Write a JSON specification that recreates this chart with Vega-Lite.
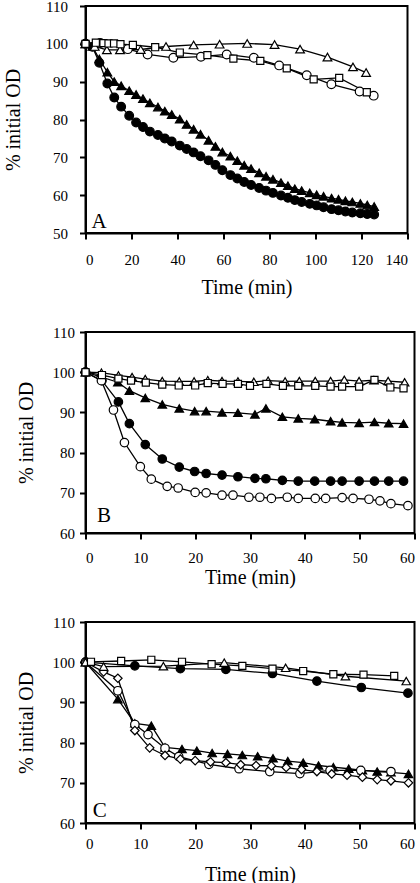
{
  "$schema": "https://vega.github.io/schema/vega-lite/v6.json",
  "padding": {"left": 1.5, "top": -2, "right": 0, "bottom": 0},
  "background": "white",
  "spacing": 26,
  "config": {
    "font": "Liberation Serif",
    "view": {"stroke": "black", "strokeWidth": 2},
    "axis": {
      "domainColor": "black", "domainWidth": 2, "tickColor": "black", "tickWidth": 2, "tickSize": 6,
      "grid": false, "labelColor": "black", "labelFontSize": 15, "labelFont": "Liberation Serif",
      "titleFont": "Liberation Serif", "titleFontSize": 20, "titleFontWeight": "normal", "titleColor": "black"
    },
    "text": {"font": "Liberation Serif"}
  },
  "vconcat": [
    {
      "width": 322, "height": 227,
      "data": {"values": [
        {"t":0,"v":100,"s":"fc"},{"t":3,"v":99.2,"s":"fc"},{"t":6,"v":95.0,"s":"fc"},{"t":9.5,"v":89.5,"s":"fc"},{"t":12.5,"v":85.8,"s":"fc"},{"t":15.5,"v":83.4,"s":"fc"},{"t":19,"v":81.0,"s":"fc"},{"t":22,"v":79.2,"s":"fc"},{"t":25,"v":78.0,"s":"fc"},{"t":28,"v":76.8,"s":"fc"},{"t":31.5,"v":75.9,"s":"fc"},{"t":34.5,"v":75.0,"s":"fc"},{"t":37.5,"v":74.2,"s":"fc"},{"t":41,"v":73.1,"s":"fc"},{"t":44,"v":72.2,"s":"fc"},{"t":47,"v":71.3,"s":"fc"},{"t":50,"v":70.3,"s":"fc"},{"t":53.5,"v":69.2,"s":"fc"},{"t":56.5,"v":68.0,"s":"fc"},{"t":59.5,"v":66.6,"s":"fc"},{"t":63,"v":65.3,"s":"fc"},{"t":66,"v":64.4,"s":"fc"},{"t":69,"v":63.5,"s":"fc"},{"t":72,"v":62.7,"s":"fc"},{"t":75.5,"v":61.9,"s":"fc"},{"t":78.5,"v":61.2,"s":"fc"},{"t":81.5,"v":60.6,"s":"fc"},{"t":85,"v":59.9,"s":"fc"},{"t":88,"v":59.3,"s":"fc"},{"t":91,"v":58.7,"s":"fc"},{"t":94,"v":58.2,"s":"fc"},{"t":97.5,"v":57.7,"s":"fc"},{"t":100.5,"v":57.3,"s":"fc"},{"t":103.5,"v":56.8,"s":"fc"},{"t":107,"v":56.3,"s":"fc"},{"t":110,"v":56.0,"s":"fc"},{"t":113,"v":55.7,"s":"fc"},{"t":116,"v":55.4,"s":"fc"},{"t":119.5,"v":55.2,"s":"fc"},{"t":122.5,"v":55.0,"s":"fc"},{"t":125.5,"v":54.9,"s":"fc"},
        {"t":0,"v":100,"s":"ft"},{"t":3,"v":99.3,"s":"ft"},{"t":6,"v":96.0,"s":"ft"},{"t":9.5,"v":92.5,"s":"ft"},{"t":12.5,"v":90.0,"s":"ft"},{"t":15.5,"v":88.9,"s":"ft"},{"t":19,"v":87.6,"s":"ft"},{"t":22,"v":86.6,"s":"ft"},{"t":25,"v":85.5,"s":"ft"},{"t":28,"v":84.4,"s":"ft"},{"t":31.5,"v":83.3,"s":"ft"},{"t":34.5,"v":82.2,"s":"ft"},{"t":37.5,"v":81.3,"s":"ft"},{"t":41,"v":80.1,"s":"ft"},{"t":44,"v":78.7,"s":"ft"},{"t":47,"v":77.4,"s":"ft"},{"t":50,"v":76.1,"s":"ft"},{"t":53.5,"v":74.5,"s":"ft"},{"t":56.5,"v":72.9,"s":"ft"},{"t":59.5,"v":71.4,"s":"ft"},{"t":63,"v":70.3,"s":"ft"},{"t":66,"v":69.1,"s":"ft"},{"t":69,"v":67.9,"s":"ft"},{"t":72,"v":67.0,"s":"ft"},{"t":75.5,"v":65.9,"s":"ft"},{"t":78.5,"v":65.0,"s":"ft"},{"t":81.5,"v":64.2,"s":"ft"},{"t":85,"v":63.3,"s":"ft"},{"t":88,"v":62.5,"s":"ft"},{"t":91,"v":61.7,"s":"ft"},{"t":94,"v":61.2,"s":"ft"},{"t":97.5,"v":60.6,"s":"ft"},{"t":100.5,"v":60.1,"s":"ft"},{"t":103.5,"v":59.7,"s":"ft"},{"t":107,"v":59.2,"s":"ft"},{"t":110,"v":58.9,"s":"ft"},{"t":113,"v":58.5,"s":"ft"},{"t":116,"v":58.2,"s":"ft"},{"t":119.5,"v":57.8,"s":"ft"},{"t":122.5,"v":57.4,"s":"ft"},{"t":125.5,"v":57.0,"s":"ft"},
        {"t":0,"v":100,"s":"oc"},{"t":6.4,"v":100.2,"s":"oc"},{"t":18.4,"v":98.6,"s":"oc"},{"t":27,"v":97.2,"s":"oc"},{"t":38.2,"v":96.3,"s":"oc"},{"t":50.2,"v":96.6,"s":"oc"},{"t":61.4,"v":97.2,"s":"oc"},{"t":73.2,"v":96.3,"s":"oc"},{"t":84.2,"v":94.3,"s":"oc"},{"t":96.2,"v":91.7,"s":"oc"},{"t":106.9,"v":89.3,"s":"oc"},{"t":119.2,"v":87.4,"s":"oc"},{"t":125.3,"v":86.3,"s":"oc"},
        {"t":0,"v":100,"s":"ot"},{"t":4,"v":99.3,"s":"ot"},{"t":9.3,"v":98.4,"s":"ot"},{"t":15,"v":98.4,"s":"ot"},{"t":24,"v":98.5,"s":"ot"},{"t":35,"v":99.3,"s":"ot"},{"t":47,"v":99.7,"s":"ot"},{"t":58.3,"v":99.9,"s":"ot"},{"t":70.3,"v":100.1,"s":"ot"},{"t":82.2,"v":99.8,"s":"ot"},{"t":93.3,"v":98.6,"s":"ot"},{"t":105.2,"v":96.5,"s":"ot"},{"t":116.3,"v":93.9,"s":"ot"},{"t":122,"v":92.4,"s":"ot"},
        {"t":0,"v":100,"s":"os"},{"t":4.5,"v":100.3,"s":"os"},{"t":7.8,"v":100.2,"s":"os"},{"t":10,"v":100.1,"s":"os"},{"t":12.4,"v":100.1,"s":"os"},{"t":15.2,"v":99.9,"s":"os"},{"t":20.6,"v":99.7,"s":"os"},{"t":30.3,"v":99.1,"s":"os"},{"t":41,"v":97.7,"s":"os"},{"t":53,"v":97.0,"s":"os"},{"t":64.3,"v":96.1,"s":"os"},{"t":76,"v":95.5,"s":"os"},{"t":87.5,"v":93.5,"s":"os"},{"t":99.2,"v":90.6,"s":"os"},{"t":110.3,"v":91.0,"s":"os"},{"t":122.3,"v":87.2,"s":"os"}
      ]},
      "encoding": {
        "x": {"field": "t", "type": "quantitative", "scale": {"domain": [0, 140]},
              "axis": {"title": "Time (min)", "values": [0,20,40,60,80,100,120,140], "labelPadding": 13, "titlePadding": 10, "titleFontWeight": "normal"}},
        "y": {"field": "v", "type": "quantitative", "scale": {"domain": [50, 110]},
              "axis": {"title": "% initial OD", "values": [50,60,70,80,90,100,110], "labelPadding": 12, "titlePadding": 22, "titleFontWeight": "normal"}}
      },
      "layer": [
        {"mark": {"type": "line", "color": "black", "strokeWidth": 1.3}, "encoding": {"detail": {"field": "s"}}},
        {"transform": [{"filter": "datum.s != 'os'"}],
         "mark": {"type": "point", "filled": true, "stroke": "black", "strokeWidth": 1.2, "opacity": 1, "size": 76},
         "encoding": {
           "shape": {"field": "s", "type": "nominal", "scale": {"domain": ["fc","ft","oc","ot","od"], "range": ["circle","triangle-up","circle","triangle-up","diamond"]}, "legend": null},
           "fill": {"field": "s", "type": "nominal", "scale": {"domain": ["fc","ft","oc","ot","od"], "range": ["black","black","white","white","white"]}, "legend": null}
         }},
        {"transform": [{"filter": "datum.s == 'os'"}],
         "mark": {"type": "point", "shape": "square", "filled": true, "fill": "white", "stroke": "black", "strokeWidth": 1.2, "opacity": 1, "size": 50}},
        {"data": {"values": [{"t": 2.6, "v": 51.3, "label": "A"}]},
         "mark": {"type": "text", "align": "left", "baseline": "alphabetic", "fontSize": 21, "font": "Liberation Serif", "color": "black"},
         "encoding": {"text": {"field": "label"}}}
      ]
    },
    {
      "width": 329, "height": 201,
      "data": {"values": [
        {"t":0,"v":100,"s":"ft"},{"t":5.9,"v":97.5,"s":"ft"},{"t":8,"v":95.4,"s":"ft"},{"t":10.9,"v":93.6,"s":"ft"},{"t":14,"v":92.0,"s":"ft"},{"t":17.1,"v":91.0,"s":"ft"},{"t":19.9,"v":90.3,"s":"ft"},{"t":22,"v":90.3,"s":"ft"},{"t":24.9,"v":90.0,"s":"ft"},{"t":27.8,"v":89.9,"s":"ft"},{"t":30.9,"v":89.5,"s":"ft"},{"t":32.9,"v":91.0,"s":"ft"},{"t":35.9,"v":88.9,"s":"ft"},{"t":38.8,"v":88.5,"s":"ft"},{"t":41.8,"v":88.3,"s":"ft"},{"t":44.7,"v":87.8,"s":"ft"},{"t":46.8,"v":87.5,"s":"ft"},{"t":49.9,"v":87.4,"s":"ft"},{"t":52.7,"v":87.6,"s":"ft"},{"t":55.3,"v":87.3,"s":"ft"},{"t":58,"v":87.2,"s":"ft"},
        {"t":0,"v":100,"s":"fc"},{"t":3,"v":97.9,"s":"fc"},{"t":6,"v":92.6,"s":"fc"},{"t":8,"v":87.2,"s":"fc"},{"t":10.9,"v":82.0,"s":"fc"},{"t":14,"v":78.4,"s":"fc"},{"t":17.1,"v":76.4,"s":"fc"},{"t":19.9,"v":75.3,"s":"fc"},{"t":22,"v":74.8,"s":"fc"},{"t":24.9,"v":74.4,"s":"fc"},{"t":27.8,"v":74.0,"s":"fc"},{"t":30.9,"v":73.6,"s":"fc"},{"t":32.9,"v":73.5,"s":"fc"},{"t":35.9,"v":73.1,"s":"fc"},{"t":38.8,"v":72.9,"s":"fc"},{"t":41.8,"v":72.9,"s":"fc"},{"t":44.7,"v":72.9,"s":"fc"},{"t":46.8,"v":72.9,"s":"fc"},{"t":49.9,"v":72.9,"s":"fc"},{"t":52.7,"v":72.9,"s":"fc"},{"t":55.3,"v":72.9,"s":"fc"},{"t":58,"v":72.9,"s":"fc"},
        {"t":0,"v":100,"s":"oc"},{"t":2.9,"v":97.9,"s":"oc"},{"t":5.1,"v":90.6,"s":"oc"},{"t":7.1,"v":82.5,"s":"oc"},{"t":10,"v":76.5,"s":"oc"},{"t":12,"v":73.4,"s":"oc"},{"t":14.9,"v":71.6,"s":"oc"},{"t":16.9,"v":71.2,"s":"oc"},{"t":20,"v":70.1,"s":"oc"},{"t":22,"v":70.0,"s":"oc"},{"t":24.9,"v":69.4,"s":"oc"},{"t":26.9,"v":69.4,"s":"oc"},{"t":29.8,"v":68.9,"s":"oc"},{"t":31.8,"v":68.9,"s":"oc"},{"t":33.9,"v":68.6,"s":"oc"},{"t":36.8,"v":68.9,"s":"oc"},{"t":38.8,"v":68.6,"s":"oc"},{"t":41.9,"v":68.6,"s":"oc"},{"t":43.8,"v":68.6,"s":"oc"},{"t":46.8,"v":68.8,"s":"oc"},{"t":48.8,"v":68.6,"s":"oc"},{"t":51.7,"v":68.4,"s":"oc"},{"t":53.7,"v":68.0,"s":"oc"},{"t":55.7,"v":67.3,"s":"oc"},{"t":58.8,"v":66.8,"s":"oc"},
        {"t":0,"v":100,"s":"ot"},{"t":2.9,"v":99.9,"s":"ot"},{"t":6,"v":99.2,"s":"ot"},{"t":8.5,"v":98.8,"s":"ot"},{"t":10.9,"v":98.3,"s":"ot"},{"t":14,"v":97.8,"s":"ot"},{"t":17.1,"v":97.7,"s":"ot"},{"t":19.8,"v":97.7,"s":"ot"},{"t":22.3,"v":98.0,"s":"ot"},{"t":24.9,"v":97.8,"s":"ot"},{"t":27.8,"v":97.7,"s":"ot"},{"t":30.7,"v":97.6,"s":"ot"},{"t":33.3,"v":97.9,"s":"ot"},{"t":36.4,"v":97.7,"s":"ot"},{"t":39,"v":97.8,"s":"ot"},{"t":41.9,"v":97.8,"s":"ot"},{"t":44.7,"v":97.8,"s":"ot"},{"t":47.2,"v":98.1,"s":"ot"},{"t":49.9,"v":97.8,"s":"ot"},{"t":52.6,"v":98.0,"s":"ot"},{"t":55.2,"v":97.8,"s":"ot"},{"t":58.2,"v":97.5,"s":"ot"},
        {"t":0,"v":100,"s":"os"},{"t":3,"v":99.3,"s":"os"},{"t":6,"v":98.4,"s":"os"},{"t":8.3,"v":97.9,"s":"os"},{"t":11,"v":97.4,"s":"os"},{"t":14,"v":96.9,"s":"os"},{"t":17,"v":96.7,"s":"os"},{"t":20,"v":96.7,"s":"os"},{"t":22.3,"v":97.3,"s":"os"},{"t":25,"v":97.1,"s":"os"},{"t":27.8,"v":97.1,"s":"os"},{"t":30,"v":96.6,"s":"os"},{"t":33,"v":97.1,"s":"os"},{"t":36,"v":96.6,"s":"os"},{"t":38.8,"v":96.6,"s":"os"},{"t":41.9,"v":96.6,"s":"os"},{"t":44.7,"v":96.4,"s":"os"},{"t":46.8,"v":96.4,"s":"os"},{"t":49.9,"v":96.4,"s":"os"},{"t":52.7,"v":98.1,"s":"os"},{"t":55.6,"v":96.2,"s":"os"},{"t":58,"v":96.0,"s":"os"}
      ]},
      "encoding": {
        "x": {"field": "t", "type": "quantitative", "scale": {"domain": [0, 60]},
              "axis": {"title": "Time (min)", "values": [0,10,20,30,40,50,60], "labelPadding": 11, "titlePadding": 2, "titleFontWeight": "normal"}},
        "y": {"field": "v", "type": "quantitative", "scale": {"domain": [60, 110]},
              "axis": {"title": "% initial OD", "values": [60,70,80,90,100,110], "labelPadding": 5, "titlePadding": 16, "titleFontWeight": "normal"}}
      },
      "layer": [
        {"mark": {"type": "line", "color": "black", "strokeWidth": 1.3}, "encoding": {"detail": {"field": "s"}}},
        {"transform": [{"filter": "datum.s != 'os'"}],
         "mark": {"type": "point", "filled": true, "stroke": "black", "strokeWidth": 1.2, "opacity": 1, "size": 72},
         "encoding": {
           "shape": {"field": "s", "type": "nominal", "scale": {"domain": ["fc","ft","oc","ot","od"], "range": ["circle","triangle-up","circle","triangle-up","diamond"]}, "legend": null},
           "fill": {"field": "s", "type": "nominal", "scale": {"domain": ["fc","ft","oc","ot","od"], "range": ["black","black","white","white","white"]}, "legend": null}
         }},
        {"transform": [{"filter": "datum.s == 'os'"}],
         "mark": {"type": "point", "shape": "square", "filled": true, "fill": "white", "stroke": "black", "strokeWidth": 1.2, "opacity": 1, "size": 50}},
        {"data": {"values": [{"t": 2.1, "v": 62.7, "label": "B"}]},
         "mark": {"type": "text", "align": "left", "baseline": "alphabetic", "fontSize": 21, "font": "Liberation Serif", "color": "black"},
         "encoding": {"text": {"field": "label"}}}
      ]
    },
    {
      "width": 329, "height": 201,
      "data": {"values": [
        {"t":0,"v":100,"s":"fc"},{"t":9,"v":99.1,"s":"fc"},{"t":17.3,"v":98.4,"s":"fc"},{"t":25.6,"v":98.2,"s":"fc"},{"t":34.1,"v":97.2,"s":"fc"},{"t":42.2,"v":95.3,"s":"fc"},{"t":50.3,"v":93.7,"s":"fc"},{"t":58.8,"v":92.3,"s":"fc"},
        {"t":0,"v":100,"s":"ft"},{"t":5.9,"v":90.8,"s":"ft"},{"t":9,"v":84.8,"s":"ft"},{"t":12,"v":84.2,"s":"ft"},{"t":14.5,"v":78.8,"s":"ft"},{"t":17.6,"v":78.4,"s":"ft"},{"t":20.3,"v":78.0,"s":"ft"},{"t":23.1,"v":77.4,"s":"ft"},{"t":25.9,"v":77.2,"s":"ft"},{"t":28.6,"v":76.9,"s":"ft"},{"t":31.4,"v":76.6,"s":"ft"},{"t":34.2,"v":76.1,"s":"ft"},{"t":36.9,"v":75.4,"s":"ft"},{"t":39.7,"v":75.0,"s":"ft"},{"t":42.5,"v":74.3,"s":"ft"},{"t":45.2,"v":73.9,"s":"ft"},{"t":48,"v":73.5,"s":"ft"},{"t":50.5,"v":73.1,"s":"ft"},{"t":53.2,"v":72.8,"s":"ft"},{"t":55.7,"v":72.6,"s":"ft"},{"t":58.9,"v":72.2,"s":"ft"},
        {"t":0,"v":100,"s":"oc"},{"t":5.9,"v":92.9,"s":"oc"},{"t":9,"v":84.5,"s":"oc"},{"t":11.4,"v":82.0,"s":"oc"},{"t":14.5,"v":78.6,"s":"oc"},{"t":17,"v":76.5,"s":"oc"},{"t":22.5,"v":74.6,"s":"oc"},{"t":28,"v":73.5,"s":"oc"},{"t":33.6,"v":72.8,"s":"oc"},{"t":39.1,"v":72.3,"s":"oc"},{"t":44.6,"v":73.1,"s":"oc"},{"t":50.2,"v":73.1,"s":"oc"},{"t":55.7,"v":72.8,"s":"oc"},
        {"t":0,"v":100,"s":"od"},{"t":3.3,"v":97.6,"s":"od"},{"t":5.9,"v":96.0,"s":"od"},{"t":9,"v":83.0,"s":"od"},{"t":11.7,"v":78.7,"s":"od"},{"t":14.5,"v":76.8,"s":"od"},{"t":17.3,"v":75.9,"s":"od"},{"t":20,"v":75.5,"s":"od"},{"t":22.8,"v":75.2,"s":"od"},{"t":25.6,"v":75.0,"s":"od"},{"t":28.3,"v":74.5,"s":"od"},{"t":31.1,"v":74.3,"s":"od"},{"t":33.9,"v":74.2,"s":"od"},{"t":36.6,"v":73.8,"s":"od"},{"t":39.4,"v":73.3,"s":"od"},{"t":42.2,"v":72.8,"s":"od"},{"t":44.9,"v":72.2,"s":"od"},{"t":47.7,"v":71.9,"s":"od"},{"t":50.5,"v":71.4,"s":"od"},{"t":53.2,"v":70.8,"s":"od"},{"t":55.7,"v":70.5,"s":"od"},{"t":58.9,"v":70.0,"s":"od"},
        {"t":0,"v":100,"s":"ot"},{"t":3.3,"v":98.9,"s":"ot"},{"t":14.2,"v":99.0,"s":"ot"},{"t":25.3,"v":99.9,"s":"ot"},{"t":36.5,"v":98.6,"s":"ot"},{"t":47.4,"v":96.5,"s":"ot"},{"t":58.5,"v":95.3,"s":"ot"},
        {"t":1,"v":100.1,"s":"os"},{"t":6.5,"v":100.3,"s":"os"},{"t":12,"v":100.6,"s":"os"},{"t":17.6,"v":100.1,"s":"os"},{"t":23,"v":99.5,"s":"os"},{"t":28.6,"v":99.1,"s":"os"},{"t":34.1,"v":98.4,"s":"os"},{"t":39.7,"v":97.8,"s":"os"},{"t":45.2,"v":97.0,"s":"os"},{"t":50.7,"v":96.9,"s":"os"},{"t":56.3,"v":96.6,"s":"os"}
      ]},
      "encoding": {
        "x": {"field": "t", "type": "quantitative", "scale": {"domain": [0, 60]},
              "axis": {"title": "Time (min)", "values": [0,10,20,30,40,50,60], "labelPadding": 7, "titlePadding": 13, "titleFontWeight": "normal"}},
        "y": {"field": "v", "type": "quantitative", "scale": {"domain": [60, 110]},
              "axis": {"title": "% initial OD", "values": [60,70,80,90,100,110], "labelPadding": 5, "titlePadding": 16, "titleFontWeight": "normal"}}
      },
      "layer": [
        {"mark": {"type": "line", "color": "black", "strokeWidth": 1.3}, "encoding": {"detail": {"field": "s"}}},
        {"transform": [{"filter": "datum.s != 'os'"}],
         "mark": {"type": "point", "filled": true, "stroke": "black", "strokeWidth": 1.2, "opacity": 1, "size": 72},
         "encoding": {
           "shape": {"field": "s", "type": "nominal", "scale": {"domain": ["fc","ft","oc","ot","od"], "range": ["circle","triangle-up","circle","triangle-up","diamond"]}, "legend": null},
           "fill": {"field": "s", "type": "nominal", "scale": {"domain": ["fc","ft","oc","ot","od"], "range": ["black","black","white","white","white"]}, "legend": null}
         }},
        {"transform": [{"filter": "datum.s == 'os'"}],
         "mark": {"type": "point", "shape": "square", "filled": true, "fill": "white", "stroke": "black", "strokeWidth": 1.2, "opacity": 1, "size": 50}},
        {"data": {"values": [{"t": 1.3, "v": 61.5, "label": "C"}]},
         "mark": {"type": "text", "align": "left", "baseline": "alphabetic", "fontSize": 21, "font": "Liberation Serif", "color": "black"},
         "encoding": {"text": {"field": "label"}}}
      ]
    }
  ]
}
